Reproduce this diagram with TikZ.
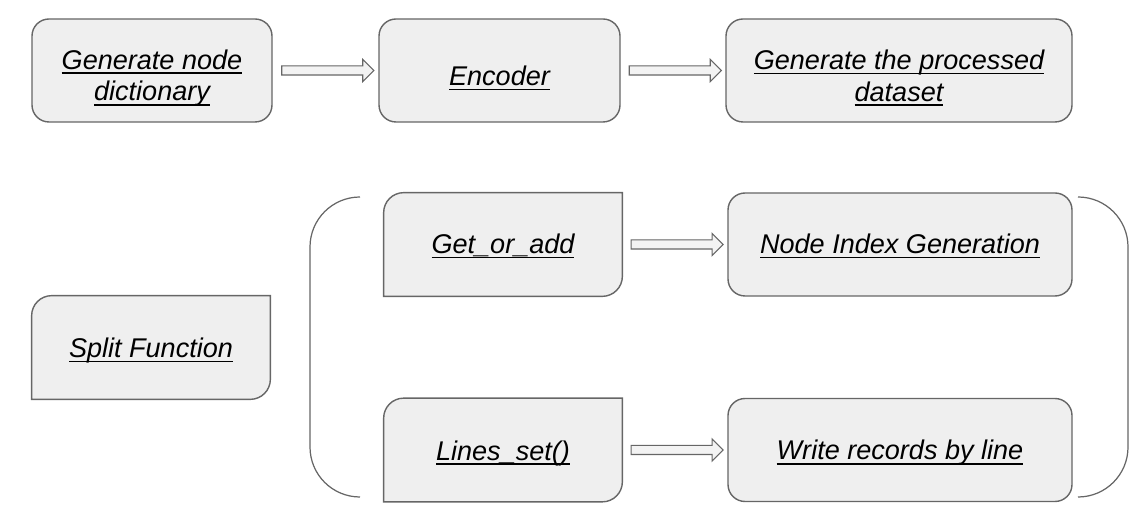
\documentclass[tikz,border=0pt]{standalone}
\usepackage{fontspec}
\setmainfont{Liberation Sans}
\usepackage{xcolor}
\usepackage{tikz}
\usetikzlibrary{calc,shapes.arrows}

\definecolor{boxfill}{HTML}{EFEFEF}
\definecolor{boxline}{HTML}{666666}
\definecolor{arrfill}{HTML}{F3F3F3}

% box with round top-left and bottom-right corners only
\newcommand{\leafbox}[1]{%
  \draw[line width=0.8pt, draw=boxline, fill=boxfill]
    (#1.south west) -- ([yshift=-0.4cm]#1.north west)
    arc (180:90:0.4cm) -- (#1.north east)
    -- ([yshift=0.4cm]#1.south east)
    arc (0:-90:0.4cm) -- cycle;
}
% thicker underline
\newsavebox{\ulbox}
\newcommand{\ul}[1]{\leavevmode\sbox{\ulbox}{#1}\rlap{\usebox{\ulbox}}\rule[-0.1cm]{\wd\ulbox}{0.035cm}}

\begin{document}
\begin{tikzpicture}[
    every node/.style={font=\fontsize{15.4}{18.1}\selectfont\itshape, align=center},
    procbox/.style={draw=boxline, fill=boxfill, line width=0.8pt,
        rounded corners=0.34cm, minimum height=2.06cm},
    leaf/.style={minimum width=4.76cm, minimum height=2.06cm},
    blockarrow/.style={single arrow, draw=boxline, fill=arrfill, line width=0.6pt,
        minimum height=1.84cm, minimum width=0.44cm, inner sep=0.08cm,
        single arrow head extend=0.13cm}
]
\useasboundingbox (0,0) rectangle (22.84,10.28);

% top row
\node[procbox, minimum width=4.8cm] (gendict) at (3.04,8.87) {};
\node[procbox, minimum width=4.82cm] (encoder) at (9.99,8.87) {};
\node[procbox, minimum width=6.92cm] (gendata) at (17.98,8.87) {};
\node at ([yshift=-0.15cm]gendict) {\ul{Generate node}\\\ul{dictionary}};
\node at ([yshift=-0.15cm]encoder) {\ul{Encoder}};
\node at ([yshift=-0.15cm]gendata) {\ul{Generate the processed}\\\ul{dataset}};

\node[blockarrow] (a1) at ($(gendict.east)!0.5!(encoder.west)$) {};
\node[blockarrow] (a2) at ($(encoder.east)!0.5!(gendata.west)$) {};

% split function
\node[leaf] (split) at (3.02,3.33) {};
\leafbox{split}
\node at ([yshift=-0.06cm]split) {\ul{Split Function}};

\node[leaf] (getadd) at (10.06,5.39) {};
\leafbox{getadd}
\node at ([yshift=-0.03cm]getadd) {\ul{Get\_or\_add}};

\node[leaf] (lines) at (10.06,1.28) {};
\leafbox{lines}
\node at ([yshift=-0.06cm]lines) {\ul{Lines\_set()}};

\node[procbox, minimum width=6.88cm] (nodeidx) at (18.0,5.39) {};
\node[procbox, minimum width=6.88cm] (write) at (18.0,1.28) {};
\node at ([yshift=-0.03cm]nodeidx) {\ul{Node Index Generation}};
\node at ([yshift=-0.06cm]write) {\ul{Write records by line}};

\node[blockarrow] (a3) at ($(getadd.east)!0.5!(nodeidx.west)$) {};
\node[blockarrow] (a4) at ($(lines.east)!0.5!(write.west)$) {};

% brackets
\coordinate (lt) at (7.2,6.34);
\coordinate (lb) at (7.2,0.34);
\coordinate (rt) at (21.58,6.34);
\coordinate (rb) at (21.58,0.34);
\draw[boxline, line width=0.7pt, rounded corners=1cm]
    (lt) -- (6.2,6.34) -- (6.2,0.34) -- (lb);
\draw[boxline, line width=0.7pt, rounded corners=1cm]
    (rt) -- (22.56,6.34) -- (22.56,0.34) -- (rb);
\end{tikzpicture}
\end{document}
